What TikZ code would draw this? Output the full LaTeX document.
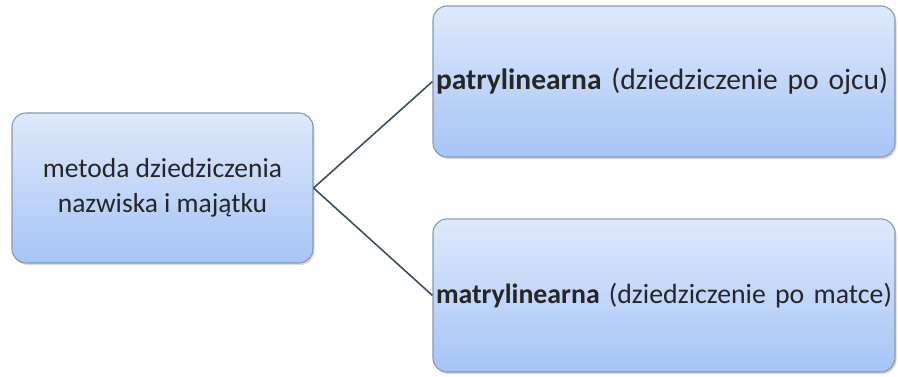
\documentclass[tikz,border=0pt]{standalone}
\usepackage{fontspec}
\setmainfont{Carlito}
\usepackage{tikz}
\usetikzlibrary{shadows}

\definecolor{gora}{RGB}{222,233,251}
\definecolor{dol}{RGB}{166,196,245}
\definecolor{ramka}{RGB}{138,152,176}
\definecolor{kreska}{RGB}{62,78,102}

\tikzset{
  blok/.style={draw=ramka, line width=1.1pt, rounded corners=14pt,
    top color=gora, bottom color=dol,
    drop shadow={shadow xshift=1.5pt, shadow yshift=-2pt, opacity=0.3},
    text=black!85},
  linia/.style={draw=kreska, line width=1.6pt}
}

\begin{document}
\begin{tikzpicture}[x=1pt,y=1pt]
       \useasboundingbox (0,0) rectangle (898,376);

       \node[blok, minimum width=301pt, minimum height=150pt, align=center,
             font=\fontsize{27.5}{35}\selectfont] (metoda) at (162.5,188)
            {metoda dziedziczenia\\nazwiska i majątku};
       \node[blok, minimum width=462pt, minimum height=151pt, text width=456pt, inner xsep=3pt, align=left,
             font=\fontsize{29.5}{34}\selectfont] (patry) at (664,294.5)
            {\textbf{patrylinearna} (dziedziczenie po ojcu)};
       \node[blok, minimum width=462pt, minimum height=153pt, text width=456pt, inner xsep=3pt, align=left,
             font=\fontsize{27.8}{34}\selectfont] (matry) at (664,80.5)
            {\textbf{matrylinearna} (dziedziczenie po matce)};

       \draw[linia] (metoda.east) -- (patry.west);
       \draw[linia] (metoda.east) -- (matry.west);
      \end{tikzpicture}
\end{document}
